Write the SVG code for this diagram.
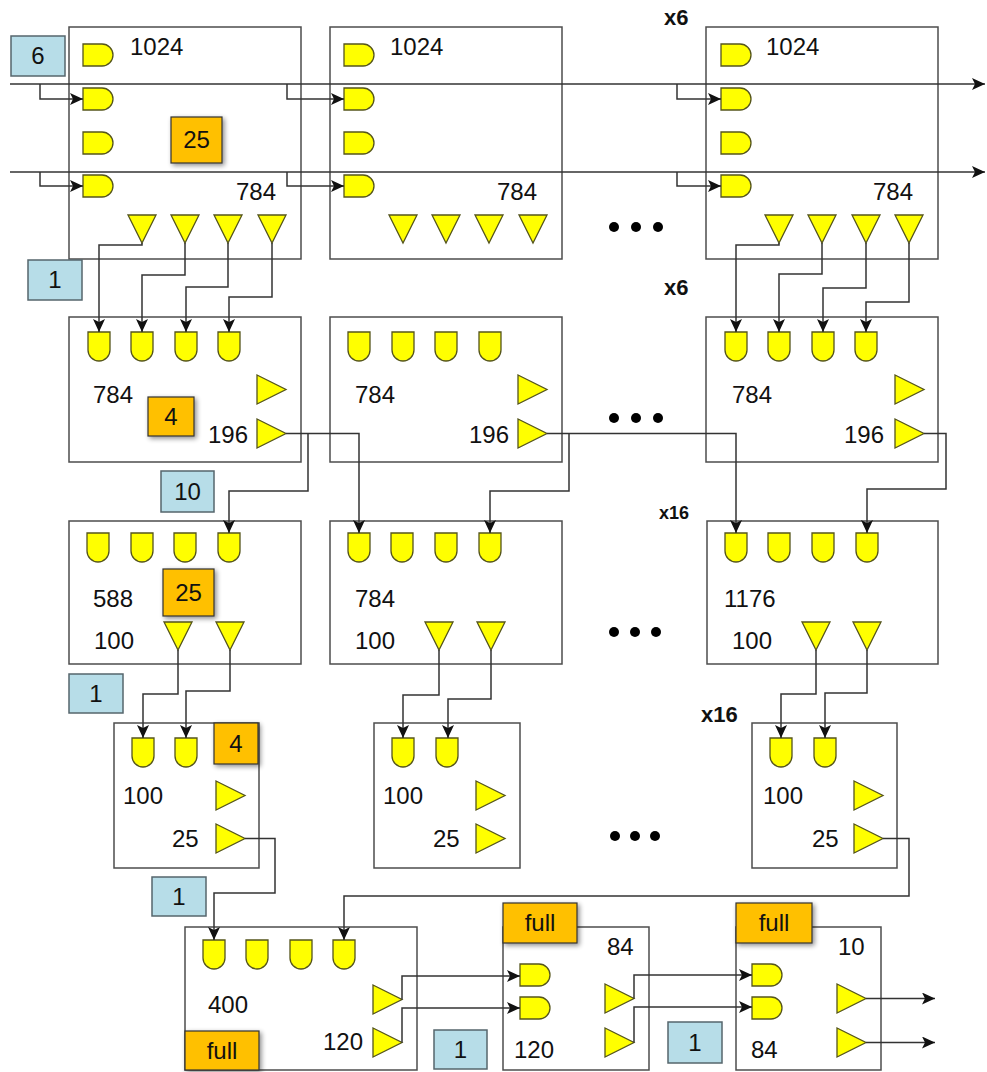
<svg xmlns="http://www.w3.org/2000/svg" xmlns:xlink="http://www.w3.org/1999/xlink" width="987" height="1072" viewBox="0 0 987 1072">
<style>
.box{fill:#fff;stroke:#4d4d4d;stroke-width:1.5}
.g{fill:#ffff00;stroke:#55551c;stroke-width:1.3}
.ob{fill:#ffc000;stroke:#333;stroke-width:1.2}
.bb{fill:#b7dde8;stroke:#56666c;stroke-width:1.5}
.c{fill:none;stroke:#333;stroke-width:1.5}
.a{marker-end:url(#ah)}
.t{font-family:"Liberation Sans",Arial,sans-serif;font-size:24px;fill:#111}
.m{text-anchor:middle}
.lb{font-family:"Liberation Sans",Arial,sans-serif;font-weight:bold;fill:#111}
.dot{fill:#000}
</style>
<defs>
<marker id="ah" markerUnits="userSpaceOnUse" markerWidth="14" markerHeight="12" refX="13" refY="6" orient="auto"><path d="M0,0 L13,6 L0,12 L3,6 Z" fill="#111"/></marker>
<filter id="sh" x="-30%" y="-30%" width="170%" height="170%"><feGaussianBlur in="SourceAlpha" stdDeviation="2.5"/><feOffset dx="2" dy="2"/><feComponentTransfer><feFuncA type="linear" slope="0.45"/></feComponentTransfer><feMerge><feMergeNode/><feMergeNode in="SourceGraphic"/></feMerge></filter>
<path id="dR" d="M0,0 H19 A11,11 0 0 1 19,22 H0 Z"/>
<path id="uD" d="M0,0 H22 V18 A11,11 0 0 1 0,18 Z"/>
<path id="tD" d="M0,0 H28 L14,28 Z"/>
<path id="tR" d="M0,0 L29,14.5 L0,29 Z"/>
</defs>
<rect width="987" height="1072" fill="#fff"/>

<g id="n-A1">
<rect class="box" x="69" y="27" width="232" height="232"/>
<use href="#dR" class="g" x="83" y="44"/><use href="#dR" class="g" x="83" y="88"/><use href="#dR" class="g" x="83" y="132"/><use href="#dR" class="g" x="83" y="175"/>
<use href="#tD" class="g" x="128" y="215"/><use href="#tD" class="g" x="171" y="215"/><use href="#tD" class="g" x="214" y="215"/><use href="#tD" class="g" x="258" y="215"/>
<text class="t" x="130" y="55">1024</text><text class="t" x="236" y="200">784</text>
<rect class="ob" x="171" y="117" width="51" height="46" filter="url(#sh)"/><text class="t m" x="196.5" y="148">25</text>
</g>
<g id="n-B1">
<rect class="box" x="330" y="27" width="232" height="232"/>
<use href="#dR" class="g" x="344" y="44"/><use href="#dR" class="g" x="344" y="88"/><use href="#dR" class="g" x="344" y="132"/><use href="#dR" class="g" x="344" y="175"/>
<use href="#tD" class="g" x="389" y="215"/><use href="#tD" class="g" x="432" y="215"/><use href="#tD" class="g" x="475" y="215"/><use href="#tD" class="g" x="519" y="215"/>
<text class="t" x="390" y="55">1024</text><text class="t" x="497" y="200">784</text>
</g>
<g id="n-C1">
<rect class="box" x="706" y="27" width="232" height="232"/>
<use href="#dR" class="g" x="721" y="44"/><use href="#dR" class="g" x="721" y="88"/><use href="#dR" class="g" x="721" y="132"/><use href="#dR" class="g" x="721" y="175"/>
<use href="#tD" class="g" x="765" y="215"/><use href="#tD" class="g" x="808" y="215"/><use href="#tD" class="g" x="852" y="215"/><use href="#tD" class="g" x="895" y="215"/>
<text class="t" x="766" y="55">1024</text><text class="t" x="873" y="200">784</text>
</g>

<g id="n-A2">
<rect class="box" x="69" y="317" width="232" height="145"/>
<use href="#uD" class="g" x="88" y="332"/><use href="#uD" class="g" x="131" y="332"/><use href="#uD" class="g" x="175" y="332"/><use href="#uD" class="g" x="218" y="332"/>
<use href="#tR" class="g" x="257" y="375"/><use href="#tR" class="g" x="257" y="419"/>
<text class="t" x="93" y="403">784</text><text class="t" x="208" y="443">196</text>
<rect class="ob" x="148" y="397" width="46" height="39" filter="url(#sh)"/><text class="t m" x="171" y="425">4</text>
</g>
<g id="n-B2">
<rect class="box" x="330" y="317" width="232" height="145"/>
<use href="#uD" class="g" x="348" y="332"/><use href="#uD" class="g" x="392" y="332"/><use href="#uD" class="g" x="435" y="332"/><use href="#uD" class="g" x="479" y="332"/>
<use href="#tR" class="g" x="518" y="375"/><use href="#tR" class="g" x="518" y="419"/>
<text class="t" x="355" y="403">784</text><text class="t" x="469" y="443">196</text>
</g>
<g id="n-C2">
<rect class="box" x="706" y="317" width="232" height="145"/>
<use href="#uD" class="g" x="725" y="332"/><use href="#uD" class="g" x="768" y="332"/><use href="#uD" class="g" x="812" y="332"/><use href="#uD" class="g" x="855" y="332"/>
<use href="#tR" class="g" x="895" y="375"/><use href="#tR" class="g" x="895" y="419"/>
<text class="t" x="732" y="403">784</text><text class="t" x="844" y="443">196</text>
</g>

<g id="n-A3">
<rect class="box" x="69" y="521" width="232" height="143"/>
<use href="#uD" class="g" x="87" y="533"/><use href="#uD" class="g" x="131" y="533"/><use href="#uD" class="g" x="174" y="533"/><use href="#uD" class="g" x="218" y="533"/>
<use href="#tD" class="g" x="164" y="622"/><use href="#tD" class="g" x="216" y="622"/>
<text class="t" x="93" y="607">588</text><text class="t" x="94" y="649">100</text>
<rect class="ob" x="163" y="569" width="51" height="47" filter="url(#sh)"/><text class="t m" x="188.5" y="601">25</text>
</g>
<g id="n-B3">
<rect class="box" x="330" y="521" width="232" height="143"/>
<use href="#uD" class="g" x="348" y="533"/><use href="#uD" class="g" x="391" y="533"/><use href="#uD" class="g" x="435" y="533"/><use href="#uD" class="g" x="479" y="533"/>
<use href="#tD" class="g" x="425" y="622"/><use href="#tD" class="g" x="477" y="622"/>
<text class="t" x="355" y="607">784</text><text class="t" x="355" y="649">100</text>
</g>
<g id="n-C3">
<rect class="box" x="707" y="521" width="231" height="143"/>
<use href="#uD" class="g" x="725" y="533"/><use href="#uD" class="g" x="768" y="533"/><use href="#uD" class="g" x="812" y="533"/><use href="#uD" class="g" x="856" y="533"/>
<use href="#tD" class="g" x="802" y="622"/><use href="#tD" class="g" x="853" y="622"/>
<text class="t" x="724" y="607">1176</text><text class="t" x="732" y="649">100</text>
</g>

<g id="n-A4">
<rect class="box" x="114" y="723" width="145" height="145"/>
<use href="#uD" class="g" x="132" y="738"/><use href="#uD" class="g" x="175" y="738"/>
<use href="#tR" class="g" x="216" y="781"/><use href="#tR" class="g" x="216" y="824"/>
<text class="t" x="123" y="804">100</text><text class="t" x="172" y="847">25</text>
<rect class="ob" x="214" y="723" width="44" height="41" filter="url(#sh)"/><text class="t m" x="236" y="752">4</text>
</g>
<g id="n-B4">
<rect class="box" x="374" y="723" width="146" height="145"/>
<use href="#uD" class="g" x="392" y="738"/><use href="#uD" class="g" x="436" y="738"/>
<use href="#tR" class="g" x="476" y="781"/><use href="#tR" class="g" x="476" y="824"/>
<text class="t" x="383" y="804">100</text><text class="t" x="433" y="847">25</text>
</g>
<g id="n-C4">
<rect class="box" x="752" y="723" width="145" height="145"/>
<use href="#uD" class="g" x="770" y="738"/><use href="#uD" class="g" x="814" y="738"/>
<use href="#tR" class="g" x="854" y="781"/><use href="#tR" class="g" x="854" y="824"/>
<text class="t" x="763" y="804">100</text><text class="t" x="812" y="847">25</text>
</g>

<g id="n-E">
<rect class="box" x="185" y="927" width="232" height="143"/>
<use href="#uD" class="g" x="203" y="940"/><use href="#uD" class="g" x="246" y="940"/><use href="#uD" class="g" x="290" y="940"/><use href="#uD" class="g" x="333" y="940"/>
<use href="#tR" class="g" x="373" y="985"/><use href="#tR" class="g" x="373" y="1028"/>
<text class="t" x="208" y="1013">400</text><text class="t" x="323" y="1050">120</text>
<rect class="ob" x="185" y="1031" width="74" height="39" filter="url(#sh)"/><text class="t m" x="222" y="1059">full</text>
</g>
<g id="n-F">
<rect class="box" x="503" y="927" width="146" height="143"/>
<use href="#dR" class="g" x="520" y="964"/><use href="#dR" class="g" x="520" y="997"/>
<use href="#tR" class="g" x="605" y="984"/><use href="#tR" class="g" x="605" y="1028"/>
<text class="t" x="607" y="955">84</text><text class="t" x="514" y="1058">120</text>
<rect class="ob" x="503" y="903" width="74" height="40" filter="url(#sh)"/><text class="t m" x="540" y="931">full</text>
</g>
<g id="n-G">
<rect class="box" x="736" y="927" width="145" height="143"/>
<use href="#dR" class="g" x="752" y="964"/><use href="#dR" class="g" x="752" y="997"/>
<use href="#tR" class="g" x="837" y="984"/><use href="#tR" class="g" x="837" y="1028"/>
<text class="t" x="838" y="955">10</text><text class="t" x="751" y="1058">84</text>
<rect class="ob" x="736" y="903" width="76" height="40" filter="url(#sh)"/><text class="t m" x="774" y="931">full</text>
</g>

<g id="labels">
<rect class="bb" x="11" y="36" width="54" height="40"/><text class="t m" x="38" y="64">6</text>
<rect class="bb" x="28" y="260" width="54" height="40"/><text class="t m" x="55" y="288">1</text>
<rect class="bb" x="161" y="471" width="53" height="41"/><text class="t m" x="187.5" y="500">10</text>
<rect class="bb" x="69" y="674" width="54" height="39"/><text class="t m" x="96" y="702">1</text>
<rect class="bb" x="152" y="877" width="54" height="39"/><text class="t m" x="179" y="905">1</text>
<rect class="bb" x="434" y="1030" width="53" height="39"/><text class="t m" x="460.5" y="1058">1</text>
<rect class="bb" x="668" y="1022" width="54" height="41"/><text class="t m" x="695" y="1051">1</text>
<text class="lb" x="664" y="25" font-size="22">x6</text>
<text class="lb" x="664" y="295" font-size="22">x6</text>
<text class="lb" x="659" y="519" font-size="18">x16</text>
<text class="lb" x="701" y="722" font-size="22">x16</text>
<circle class="dot" cx="614" cy="227" r="5"/><circle class="dot" cx="636" cy="227" r="5"/><circle class="dot" cx="658" cy="227" r="5"/>
<circle class="dot" cx="614" cy="418" r="5"/><circle class="dot" cx="636" cy="418" r="5"/><circle class="dot" cx="658" cy="418" r="5"/>
<circle class="dot" cx="614" cy="632" r="5"/><circle class="dot" cx="635" cy="632" r="5"/><circle class="dot" cx="656" cy="632" r="5"/>
<circle class="dot" cx="615" cy="836" r="5"/><circle class="dot" cx="635" cy="836" r="5"/><circle class="dot" cx="655" cy="836" r="5"/>
</g>

<g id="connectors">
<path class="c a" d="M10,84 H985"/>
<path class="c a" d="M10,172 H985"/>
<path class="c a" d="M40,84 V99 H83"/>
<path class="c a" d="M287,84 V99 H344"/>
<path class="c a" d="M677,84 V99 H721"/>
<path class="c a" d="M40,172 V186 H83"/>
<path class="c a" d="M287,172 V186 H344"/>
<path class="c a" d="M677,172 V186 H721"/>
<path class="c a" d="M142,243 V245 H99 V332"/>
<path class="c a" d="M185,243 V275 H142 V332"/>
<path class="c a" d="M228,243 V287 H186 V332"/>
<path class="c a" d="M272,243 V297 H229 V332"/>
<path class="c a" d="M779,243 V245 H736 V332"/>
<path class="c a" d="M822,243 V274 H779 V332"/>
<path class="c a" d="M866,243 V288 H823 V332"/>
<path class="c a" d="M909,243 V302 H866 V332"/>
<path class="c a" d="M286,433.5 H359 V533"/>
<path class="c a" d="M308,433.5 V491 H229 V533"/>
<path class="c a" d="M547,433.5 H736 V533"/>
<path class="c a" d="M569,433.5 V491 H490 V533"/>
<path class="c a" d="M924,433.5 H946 V489 H867 V533"/>
<path class="c a" d="M178,650 V694 H143 V738"/>
<path class="c a" d="M230,650 V691 H186 V738"/>
<path class="c a" d="M439,650 V695 H403 V738"/>
<path class="c a" d="M491,650 V699 H448 V738"/>
<path class="c a" d="M816,650 V694 H781 V738"/>
<path class="c a" d="M867,650 V693 H825 V738"/>
<path class="c a" d="M245,838.5 H275 V893 H214 V940"/>
<path class="c a" d="M883,838.5 H909 V896 H344 V940"/>
<path class="c a" d="M402,999.5 V976 H520"/>
<path class="c a" d="M402,1042.5 V1008 H520"/>
<path class="c a" d="M634,998.5 V975 H752"/>
<path class="c a" d="M634,1042.5 V1007 H752"/>
<path class="c a" d="M866,998.5 H935"/>
<path class="c a" d="M866,1042.5 H935"/>
</g>
</svg>
